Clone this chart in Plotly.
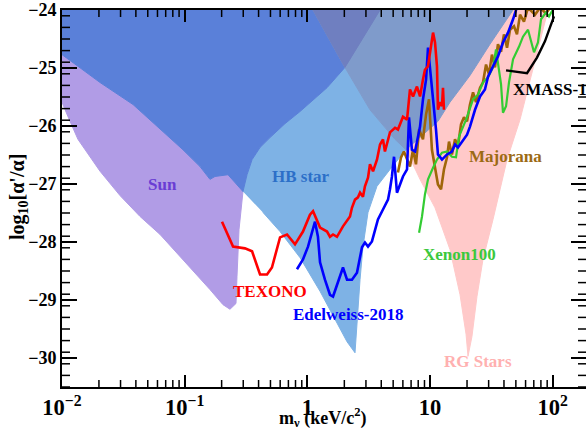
import numpy as np
import plotly.graph_objects as go

# ---- data: x given as log10(m_nu / keV), y as log10(alpha'/alpha) ----
SUN_LOGM = [-2.000, -1.870, -1.690, -1.421, -1.201, -1.014, -0.875, -0.794, -0.753, -0.647, -0.525,
            -0.557, -0.574, -0.582, -0.631, -0.688, -0.794, -0.916, -1.038, -1.201, -1.364, -1.527,
            -1.690, -1.870, -1.951, -2.000]
SUN_Y = [-24.77, -24.97, -25.25, -25.63, -26.06, -26.41, -26.70, -26.92, -26.87, -26.84, -27.13,
         -27.78, -28.60, -29.06, -29.16, -29.08, -28.82, -28.53, -28.25, -27.87, -27.56, -27.20,
         -26.78, -26.23, -25.84, -25.59]

DARK_LOGM = [-2.000, -2.000, -1.870, -1.690, -1.421, -1.201, -1.014, -0.875, -0.794, -0.753, -0.647,
             -0.525, -0.492, -0.451, -0.386, -0.305, -0.183, -0.060, 0.160, 0.306, 0.592]
DARK_Y = [-24.0, -24.77, -24.97, -25.25, -25.63, -26.06, -26.41, -26.70, -26.92, -26.87, -26.84,
          -27.13, -26.84, -26.58, -26.37, -26.20, -25.96, -25.75, -25.34, -24.99, -24.0]

HB_LOGM = [-0.525, -0.492, -0.451, -0.386, -0.305, -0.183, -0.060, 0.160, 0.306, 0.510, 0.714, 0.804,
           0.673, 0.567, 0.494, 0.453, 0.429, 0.404, 0.388, 0.323, 0.103, -0.060, -0.223, -0.362]
HB_Y = [-27.13, -26.84, -26.58, -26.37, -26.20, -25.96, -25.75, -25.34, -24.99, -25.72, -26.23, -26.41,
        -26.75, -27.04, -27.49, -28.08, -28.65, -29.34, -29.91, -29.72, -28.85, -28.27, -27.82, -27.49]

GRAY_LOGM = [0.046, 0.306, 0.510, 0.714, 0.804, 1.064, 1.162, 1.325, 1.488, 1.676]
GRAY_Y = [-24.0, -24.99, -25.72, -26.23, -26.41, -25.92, -25.59, -25.13, -24.59, -24.0]

OVER_LOGM = [0.046, 0.306, 0.592]
OVER_Y = [-24.0, -24.99, -24.0]

RG_LOGM = [0.804, 0.918, 1.040, 1.162, 1.244, 1.293, 1.309, 1.341, 1.382, 1.431, 1.513, 1.627, 1.733,
           1.855, 1.961, 1.676, 1.488, 1.325, 1.162, 1.064]
RG_Y = [-26.41, -26.92, -27.41, -28.13, -28.91, -29.59, -29.97, -29.63, -28.94, -28.30, -27.61, -26.58,
        -25.89, -24.85, -24.0, -24.0, -24.59, -25.13, -25.59, -25.92]

TEXONO_LOGM = [-0.696, -0.606, -0.509, -0.451, -0.386, -0.329, -0.289, -0.223, -0.166, -0.101, -0.036,
               0.021, 0.046, 0.070, 0.103, 0.160, 0.184, 0.209, 0.241, 0.290, 0.347, 0.363, 0.388, 0.412,
               0.429, 0.453, 0.469, 0.494, 0.510, 0.535, 0.567, 0.592, 0.616, 0.632, 0.673, 0.714, 0.738,
               0.779, 0.812, 0.836, 0.861, 0.893, 0.918, 0.942, 0.958, 0.983, 1.015, 1.024, 1.040, 1.056,
               1.064, 1.081, 1.097, 1.105, 1.113]
TEXONO_Y = [-27.65, -28.08, -28.11, -28.16, -28.56, -28.56, -28.44, -27.92, -27.87, -28.04, -27.82,
            -27.53, -27.47, -27.58, -27.75, -27.82, -27.91, -27.87, -27.91, -27.73, -27.56, -27.41,
            -27.27, -27.23, -27.15, -27.22, -27.04, -26.89, -26.66, -26.78, -26.58, -26.32, -26.23,
            -26.44, -26.11, -26.03, -26.06, -25.84, -25.89, -25.37, -25.49, -25.32, -25.49, -25.20,
            -25.03, -24.97, -24.46, -24.39, -24.56, -24.97, -25.72, -25.59, -25.66, -25.34, -25.72]

EDEL_LOGM = [-0.085, -0.036, 0.005, 0.062, 0.086, 0.103, 0.143, 0.184, 0.209, 0.249, 0.290, 0.323,
             0.363, 0.404, 0.445, 0.469, 0.494, 0.526, 0.551, 0.575, 0.616, 0.657, 0.673, 0.689, 0.706,
             0.730, 0.779, 0.812, 0.828, 0.852, 0.877, 0.918, 0.942, 0.967, 0.983, 1.007, 1.024, 1.048,
             1.064, 1.097, 1.138, 1.178, 1.203, 1.227, 1.301, 1.325, 1.366, 1.407, 1.447, 1.472, 1.513,
             1.553, 1.594, 1.635, 1.676, 1.708]
EDEL_Y = [-28.47, -28.30, -28.08, -27.65, -27.91, -28.35, -28.65, -28.91, -28.94, -28.70, -28.44, -28.65,
          -28.65, -28.53, -28.09, -28.01, -28.08, -27.99, -27.78, -27.61, -27.44, -27.27, -27.09, -26.87,
          -26.53, -27.15, -26.87, -26.75, -25.85, -26.41, -26.44, -26.01, -25.54, -25.20, -24.65, -25.15,
          -25.59, -26.06, -26.49, -26.58, -26.49, -26.44, -26.32, -26.37, -26.15, -26.01, -25.72, -25.49,
          -25.37, -25.15, -24.97, -24.80, -24.56, -24.39, -24.16, -23.95]

MAJ_LOGM = [0.738, 0.763, 0.787, 0.812, 0.836, 0.861, 0.885, 0.910, 0.942, 0.967, 0.991, 1.015, 1.040,
            1.064, 1.089, 1.113, 1.138, 1.154, 1.178, 1.203, 1.227, 1.252, 1.276, 1.301, 1.325, 1.350,
            1.374, 1.407, 1.431, 1.456, 1.480, 1.504, 1.529, 1.553, 1.578, 1.602, 1.627, 1.651, 1.684,
            1.708, 1.733, 1.765, 1.798, 1.855, 1.896, 1.945, 1.977]
MAJ_Y = [-26.80, -26.54, -26.44, -26.58, -26.70, -26.41, -26.66, -26.06, -26.23, -25.80, -25.54, -26.41,
         -26.75, -27.01, -27.09, -26.75, -26.54, -26.27, -26.49, -26.23, -26.35, -25.97, -25.85, -25.92,
         -25.63, -25.42, -25.59, -25.34, -25.25, -24.94, -25.11, -24.77, -24.99, -24.59, -24.72, -24.42,
         -24.65, -24.34, -24.28, -24.42, -24.08, -24.20, -23.96, -24.08, -23.96, -24.06, -23.96]

XE_LOGM = [0.910, 0.934, 0.958, 0.983, 1.024, 1.056, 1.097, 1.138, 1.178, 1.211, 1.236, 1.260, 1.293,
           1.350, 1.390, 1.431, 1.472, 1.513, 1.537, 1.561, 1.578, 1.594, 1.619, 1.643, 1.676, 1.725,
           1.757, 1.798, 1.822, 1.847, 1.879, 1.904, 1.945, 1.969, 2.002]
XE_Y = [-27.84, -27.56, -27.18, -26.92, -26.72, -26.58, -26.46, -26.44, -26.53, -26.54, -26.18, -26.06,
        -25.89, -25.54, -25.46, -25.25, -25.16, -24.99, -24.68, -25.03, -25.28, -25.77, -25.66, -25.25,
        -24.85, -24.63, -24.46, -24.34, -24.51, -24.73, -24.56, -24.16, -24.04, -24.11, -23.99]

XM_LOGM = [1.619, 1.692, 1.790, 1.871, 1.936, 1.977, 2.010]
XM_Y = [-25.04, -25.06, -25.09, -24.82, -24.54, -24.30, -24.11]


def mass(lm):
    return (10.0 ** np.asarray(lm)).tolist()


FONT = "Liberation Serif"
X_RANGE = [-2, 2.2706]
Y_RANGE = [-30.5, -24]
fig = go.Figure()


def region(lm, y, color):
    fig.add_trace(go.Scatter(x=mass(lm), y=y, mode="lines", fill="toself", fillcolor=color,
                             line=dict(color=color, width=1), hoverinfo="skip", showlegend=False))


def curve(lm, y, color, w=2.6):
    fig.add_trace(go.Scatter(x=mass(lm), y=y, mode="lines", line=dict(color=color, width=w),
                             hoverinfo="skip", showlegend=False))


region(RG_LOGM, RG_Y, "#FFC9C9")
region(SUN_LOGM, SUN_Y, "#B19CE6")
region(HB_LOGM, HB_Y, "#7EB2E5")
region(DARK_LOGM, DARK_Y, "#5A80D9")
region(GRAY_LOGM, GRAY_Y, "#7F9BCB")
region(OVER_LOGM, OVER_Y, "#6F7FC0")

curve(MAJ_LOGM, MAJ_Y, "#A0660A", 2.6)
curve(XE_LOGM, XE_Y, "#33CC33", 2.2)
curve(EDEL_LOGM, EDEL_Y, "#0000FF", 2.6)
curve(TEXONO_LOGM, TEXONO_Y, "#FF0000", 2.6)
curve(XM_LOGM, XM_Y, "#000000", 2.4)

# empty trace so that the tick-only right-hand axis gets drawn
fig.add_trace(go.Scatter(x=[], y=[], xaxis="x", yaxis="y2", mode="lines",
                         hoverinfo="skip", showlegend=False))

labels = [
    ("Sun", -1.185, -27.01, "#6A3DD4", "center"),
    ("HB star", -0.052, -26.87, "#2C6FC8", "center"),
    ("TEXONO", -0.305, -28.85, "#FF0000", "center"),
    ("Edelweiss-2018", 0.331, -29.25, "#0000FF", "center"),
    ("Majorana", 1.614, -26.53, "#9C6A14", "center"),
    ("Xenon100", 1.236, -28.22, "#3CC83C", "center"),
    ("RG Stars", 1.390, -30.06, "#FFB0B0", "center"),
    ("XMASS-1", 1.659, -25.37, "#000000", "left"),
]
for txt, lx, ly, col, anc in labels:
    fig.add_annotation(x=lx, y=ly, xref="x", yref="y", text="<b>%s</b>" % txt, showarrow=False,
                       xanchor=anc, yanchor="middle",
                       font=dict(family=FONT, size=17, color=col))

fig.add_annotation(x=0.498, y=-0.080, xref="paper", yref="paper",
                   text="<b>m<sub>\u03bd</sub> (keV/c<sup>2</sup>)</b>", showarrow=False,
                   xanchor="center", yanchor="middle", font=dict(family=FONT, size=18, color="black"))
fig.add_annotation(x=-0.082, y=0.504, xref="paper", yref="paper", textangle=-90,
                   text="<b>log<sub>10</sub>[\u03b1'/\u03b1]</b>", showarrow=False,
                   xanchor="center", yanchor="middle", font=dict(family=FONT, size=20, color="black"))

# minor tick marks (axis decoration), placed in paper fractions of the axes
tick_line = dict(color="black", width=1.5)
for e in range(-2, 3):
    for k in range(2, 10):
        lv = np.log10(k) + e
        if lv >= X_RANGE[1]:
            continue
        px = (lv - X_RANGE[0]) / (X_RANGE[1] - X_RANGE[0])
        for anchor, length in ((0, 7), (1, -7)):
            fig.add_shape(type="line", xref="paper", yref="paper", x0=px, x1=px,
                          ysizemode="pixel", yanchor=anchor, y0=0, y1=length, line=tick_line,
                          layer="above")
for i in range(33):
    yv = Y_RANGE[0] + 0.2 * i
    if abs(yv - round(yv)) < 1e-6 or yv > Y_RANGE[1] - 1e-6:
        continue
    py = (yv - Y_RANGE[0]) / (Y_RANGE[1] - Y_RANGE[0])
    for anchor, length in ((0, 8), (1, -8)):
        fig.add_shape(type="line", xref="paper", yref="paper", y0=py, y1=py,
                      xsizemode="pixel", xanchor=anchor, x0=0, x1=length, line=tick_line,
                      layer="above")

tickfont = dict(family=FONT, size=18, color="black", weight="bold")

fig.update_layout(
    width=586, height=430,
    margin=dict(l=62, r=0, t=10, b=43),
    paper_bgcolor="white", plot_bgcolor="white",
    xaxis=dict(type="log", range=X_RANGE, tickmode="linear", tick0=0, dtick=1,
               exponentformat="power",
               ticks="inside", ticklen=12, tickwidth=1.5, tickcolor="black",
               showline=True, linecolor="black", linewidth=2, mirror="ticks",
               showgrid=False, zeroline=False, tickfont=tickfont),
    yaxis=dict(range=Y_RANGE, tickmode="linear", tick0=-30, dtick=1,
               ticks="inside", ticklen=15, tickwidth=1.5, tickcolor="black",
               showline=True, linecolor="black", linewidth=2, mirror=False,
               showgrid=False, zeroline=False, tickfont=tickfont),
    # major ticks on the right side (frame edge lies just outside the picture)
    yaxis2=dict(range=Y_RANGE, overlaying="y", side="right", anchor="x", tickmode="linear",
                tick0=-30, dtick=1, ticks="inside", ticklen=15, tickwidth=1.5, tickcolor="black",
                showticklabels=False, showline=False, showgrid=False, zeroline=False),
)

fig.write_html("out.html")
